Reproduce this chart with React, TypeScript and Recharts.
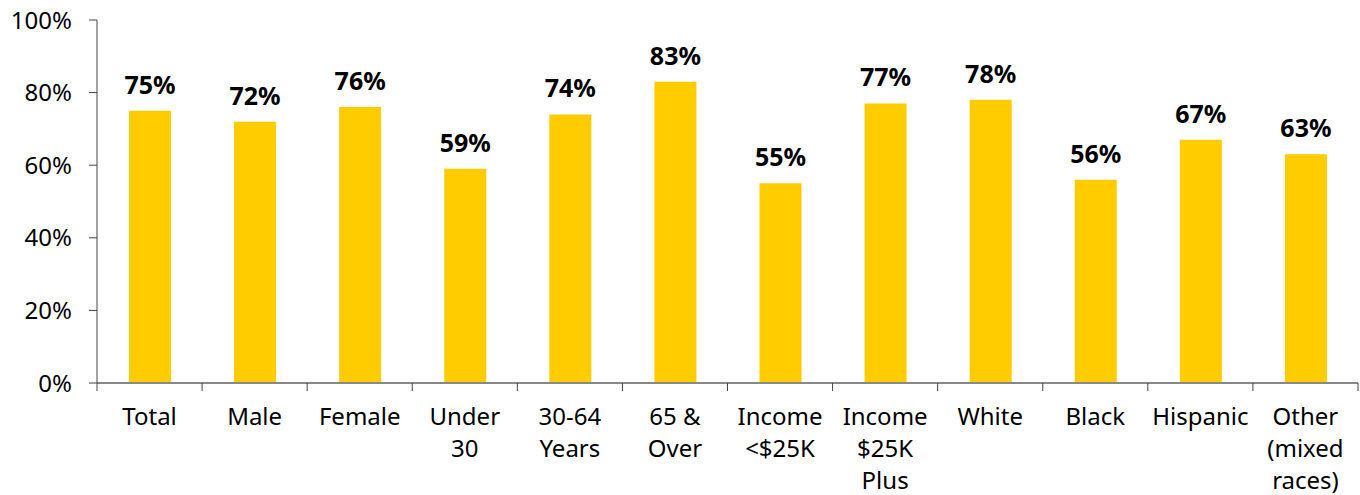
import { BarChart, Bar, XAxis, YAxis, LabelList } from "recharts";

const categories = [
  "Total",
  "Male",
  "Female",
  "Under\n30",
  "30-64\nYears",
  "65 &\nOver",
  "Income\n<$25K",
  "Income\n$25K\nPlus",
  "White",
  "Black",
  "Hispanic",
  "Other\n(mixed\nraces)",
];
const shares = [75, 72, 76, 59, 74, 83, 55, 77, 78, 56, 67, 63];
const yTicks = [0, 20, 40, 60, 80, 100];
const boundaryTicks = categories.map((_, i) => i).concat(categories.length);

const data = categories.map((name, i) => ({ name, value: shares[i], pos: i + 0.5 }));

const FONT = "'Noto Sans', sans-serif";

function CategoryTick(props: any) {
  const { x, y, payload } = props;
  const lines = String(payload.value).split("\n");
  return (
    <text x={x} y={y} textAnchor="middle" fontFamily={FONT} fontSize={24} fill="#000">
      {lines.map((line, i) => (
        <tspan key={i} x={x} dy={i === 0 ? 33 : 32}>
          {line}
        </tspan>
      ))}
    </text>
  );
}

export default function App() {
  return (
    <div style={{ position: "absolute", left: 0, top: 0, background: "#fff" }}>
      <BarChart
        width={1360}
        height={495}
        data={data}
        margin={{ top: 20, right: 2, bottom: 0, left: 0 }}
        barCategoryGap={0}
      >
        <XAxis
          xAxisId="grid"
          dataKey="pos"
          type="number"
          domain={[0, categories.length]}
          ticks={boundaryTicks}
          height={1}
          tickFormatter={() => ""}
          tickSize={8}
          axisLine={{ stroke: "#888", strokeWidth: 2 }}
          tickLine={{ stroke: "#444" }}
          interval={0}
        />
        <XAxis
          xAxisId="labels"
          dataKey="name"
          height={111}
          axisLine={false}
          tickLine={false}
          interval={0}
          tick={<CategoryTick />}
        />
        <YAxis
          domain={[0, 100]}
          ticks={yTicks}
          width={97}
          tickSize={8}
          tickMargin={17}
          tickFormatter={(v: number) => `${v}%`}
          axisLine={{ stroke: "#444" }}
          tickLine={{ stroke: "#444" }}
          tick={{ fontFamily: FONT, fontSize: 24, fill: "#000" }}
        />
        <Bar
          xAxisId="labels"
          dataKey="value"
          fill="#FFCC00"
          barSize={42}
          isAnimationActive={false}
        >
          <LabelList
            dataKey="value"
            position="top"
            offset={17}
            formatter={(v: any) => `${v}%`}
            style={{ fontFamily: FONT, fontSize: 25, fontWeight: 700, fill: "#000" }}
          />
        </Bar>
      </BarChart>
    </div>
  );
}
